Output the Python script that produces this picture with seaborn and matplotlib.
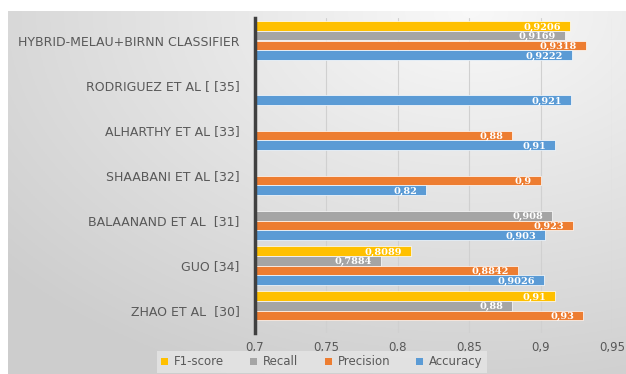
import numpy as np
import pandas as pd
import matplotlib
matplotlib.use("Agg")
import matplotlib.pyplot as plt
import matplotlib.ticker as mticker
import matplotlib.transforms as mtrans
from matplotlib.patches import Patch
import seaborn as sns

categories = ["HYBRID-MELAU+BIRNN CLASSIFIER", "RODRIGUEZ ET AL [ [35]",
              "ALHARTHY ET AL [33]", "SHAABANI ET AL [32]",
              "BALAANAND ET AL  [31]", "GUO [34]", "ZHAO ET AL  [30]"]
f1_score = [0.9206, np.nan, np.nan, np.nan, np.nan, 0.8089, 0.91]
recall = [0.9169, np.nan, np.nan, np.nan, 0.908, 0.7884, 0.88]
precision = [0.9318, np.nan, 0.88, 0.9, 0.923, 0.8842, 0.93]
accuracy = [0.9222, 0.921, 0.91, 0.82, 0.903, 0.9026, np.nan]
series = ["F1-score", "Recall", "Precision", "Accuracy"]
colors = ["#FFC000", "#A5A5A5", "#ED7D31", "#5B9BD5"]
xticks = [0.7, 0.75, 0.8, 0.85, 0.9, 0.95]
xticklabels = ["0,7", "0,75", "0,8", "0,85", "0,9", "0,95"]

rows = []
for name, vals in zip(series, [f1_score, recall, precision, accuracy]):
    for c, v in zip(categories, vals):
        rows.append({"category": c, "metric": name, "value": v})
df = pd.DataFrame(rows)

sns.set_theme(style="white")
fig = plt.figure(figsize=(6.26, 3.74), dpi=100)
fig.patch.set_facecolor("white")

# background gradient panel
bg = fig.add_axes([8/626, 0, 1 - 8/626, 1 - 11/374], zorder=-10)
h, w = 200, 300
yy, xx = np.mgrid[0:1:h*1j, 0:1:w*1j]
d = np.sqrt(((xx - 0.75) * 1.0) ** 2 + ((yy - 0.0) * 0.9) ** 2)
val = 0.975 - 0.17 * np.clip(d / 1.0, 0, 1)
bg.imshow(np.dstack([val, val, val]), aspect="auto", extent=[0, 1, 0, 1], origin="upper")
bg.axis("off")

ax = fig.add_axes([255/626, 1 - 333/374, (612 - 255)/626, (333 - 18)/374])
ax.patch.set_alpha(0)
sns.barplot(data=df, y="category", x="value", hue="metric", order=categories,
            hue_order=series, palette=colors, saturation=1, orient="h", width=0.86,
            edgecolor="white", linewidth=0.5, ax=ax, legend=False, errorbar=None)

ax.set_xlim(0.7, 0.95)
ax.set_ylim(6.5, -0.5)
ax.xaxis.set_major_locator(mticker.FixedLocator(xticks))
ax.xaxis.set_major_formatter(mticker.FixedFormatter(xticklabels))
ax.tick_params(axis="x", labelsize=8.5, labelcolor="#595959", length=3, color="#D0D0D0", pad=3)
ax.tick_params(axis="y", labelsize=9, labelcolor="#595959", length=0, pad=11)
ax.grid(axis="x", color="#D0D0D0", linewidth=0.8)
ax.set_axisbelow(True)
ax.set_xlabel("")
ax.set_ylabel("")
for s in ["top", "right", "bottom"]:
    ax.spines[s].set_visible(False)
ax.spines["left"].set_color("#404040")
ax.spines["left"].set_linewidth(2.5)

offset = mtrans.offset_copy(ax.transData, fig=fig, x=-9, y=0, units="dots")
for cont in ax.containers:
    for bar in cont:
        wv = bar.get_width()
        if np.isnan(wv) or wv == 0:
            continue
        yc = bar.get_y() + bar.get_height() / 2
        ax.text(wv, yc, f"{wv:g}".replace(".", ","), transform=offset,
                ha="right", va="center_baseline", fontsize=7, color="white",
                fontweight="bold", family="DejaVu Serif")

handles = [Patch(facecolor=c, edgecolor="none") for c in colors]
leg = fig.legend(handles, series, loc="lower center", bbox_to_anchor=(322/626, -0.012),
                 ncol=4, frameon=True, fontsize=8.5, handlelength=0.6, handleheight=0.6,
                 columnspacing=2.2, handletextpad=0.5, borderpad=0.35)
leg.get_frame().set_facecolor("#E6E6E6")
leg.get_frame().set_edgecolor("none")
leg.get_frame().set_boxstyle("square", pad=0)
for t in leg.get_texts():
    t.set_color("#595959")

fig.savefig("out.png", dpi=100)
